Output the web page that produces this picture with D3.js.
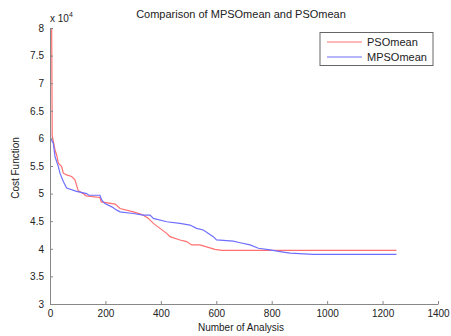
<!DOCTYPE html>
<html><head><meta charset="utf-8">
<script src="https://cdn.jsdelivr.net/npm/d3@7"></script>
<style>body{margin:0;background:#fff}svg{display:block;font-family:"Liberation Sans",Arial,sans-serif}</style>
</head><body><svg id="c" width="451" height="336"></svg>
<script>
// values in units of 1e4
const psoX = [6,8,12,18,24,30,42,48,60,78,90,102,120,130,180,185,235,253,301,337,355,373,397,421,433,469,493,511,541,595,620,1250];
const psoY = [8.0,6.05,5.95,5.79,5.70,5.55,5.49,5.37,5.34,5.31,5.25,5.05,5.0,4.96,4.93,4.85,4.81,4.73,4.67,4.61,4.55,4.46,4.37,4.28,4.22,4.16,4.13,4.07,4.07,3.99,3.97,3.97];
const mpsoX = [0,2,12,18,30,36,48,60,96,132,140,180,187,198,223,241,253,300,337,361,373,421,469,505,529,553,589,601,661,686,722,752,794,830,866,950,1250];
const mpsoY = [6.8,6.0,5.91,5.67,5.49,5.37,5.22,5.10,5.04,5.0,4.97,4.97,4.88,4.82,4.76,4.70,4.67,4.64,4.61,4.61,4.55,4.49,4.46,4.43,4.37,4.34,4.22,4.16,4.14,4.11,4.07,4.01,3.98,3.95,3.92,3.90,3.90];
const xTicks = [0,200,400,600,800,1000,1200,1400];
const yTicks = [3,3.5,4,4.5,5,5.5,6,6.5,7,7.5,8];
const seriesNames = ["PSOmean","MPSOmean"];
const seriesColors = ["#ff6f6f","#6f6fff"];

const svg = d3.select("#c");
const L=50,R=438,T=28,B=304;
const x = d3.scaleLinear().domain([0,1400]).range([L,R]);
const y = d3.scaleLinear().domain([3,8]).range([B,T]);

const clip = svg.append("clipPath").attr("id","cp").append("rect").attr("x",L).attr("y",T).attr("width",R-L).attr("height",B-T);

const line = d3.line().x(d=>x(d[0])).y(d=>y(d[1]));
const data = [psoX.map((v,i)=>[v,psoY[i]]), mpsoX.map((v,i)=>[v,mpsoY[i]])];
const g = svg.append("g").attr("clip-path","url(#cp)");
data.forEach((d,i)=>{
  g.append("path").attr("d",line(d)).attr("fill","none").attr("stroke",seriesColors[i]).attr("stroke-width",1.2);
});

// axes
const xa = svg.append("g").attr("transform",`translate(0,${B})`)
  .call(d3.axisBottom(x).tickValues(xTicks).tickSizeInner(-3).tickSizeOuter(0).tickPadding(6).tickFormat(d3.format("d")));
const ya = svg.append("g").attr("transform",`translate(${L},0)`)
  .call(d3.axisLeft(y).tickValues(yTicks).tickSizeInner(-3).tickSizeOuter(0).tickPadding(6).tickFormat(d=>String(d)));
[xa,ya].forEach(a=>{
  a.select(".domain").attr("stroke","#888");
  a.selectAll(".tick line").attr("stroke","#888");
  a.selectAll("text").attr("font-size",10).attr("fill","#222").attr("font-family","Liberation Sans, Arial, sans-serif");
});

// exponent
const ex = svg.append("text").attr("x",L).attr("y",22).attr("font-size",10).attr("fill","#222");
ex.append("tspan").text("x 10");
ex.append("tspan").attr("dy",-5).attr("font-size",7).text("4");

// title & labels
svg.append("text").attr("x",241).attr("y",18).attr("text-anchor","middle").attr("font-size",11).attr("fill","#222").text("Comparison of MPSOmean and PSOmean");
svg.append("text").attr("x",241).attr("y",331).attr("text-anchor","middle").attr("font-size",10).attr("fill","#222").text("Number of Analysis");
svg.append("text").attr("transform","translate(19,168) rotate(-90)").attr("text-anchor","middle").attr("font-size",10).attr("fill","#222").text("Cost Function");

// legend
const lg = svg.append("g");
lg.append("rect").attr("x",320).attr("y",32.5).attr("width",113).attr("height",33).attr("fill","#fff").attr("stroke","#666");
seriesNames.forEach((n,i)=>{
  const yy = 42 + i*15;
  lg.append("line").attr("x1",327).attr("x2",362).attr("y1",yy).attr("y2",yy).attr("stroke",seriesColors[i]).attr("stroke-width",1.2);
  lg.append("text").attr("x",367).attr("y",yy+4).attr("font-size",11).attr("fill","#222").text(n);
});
</script></body></html>
